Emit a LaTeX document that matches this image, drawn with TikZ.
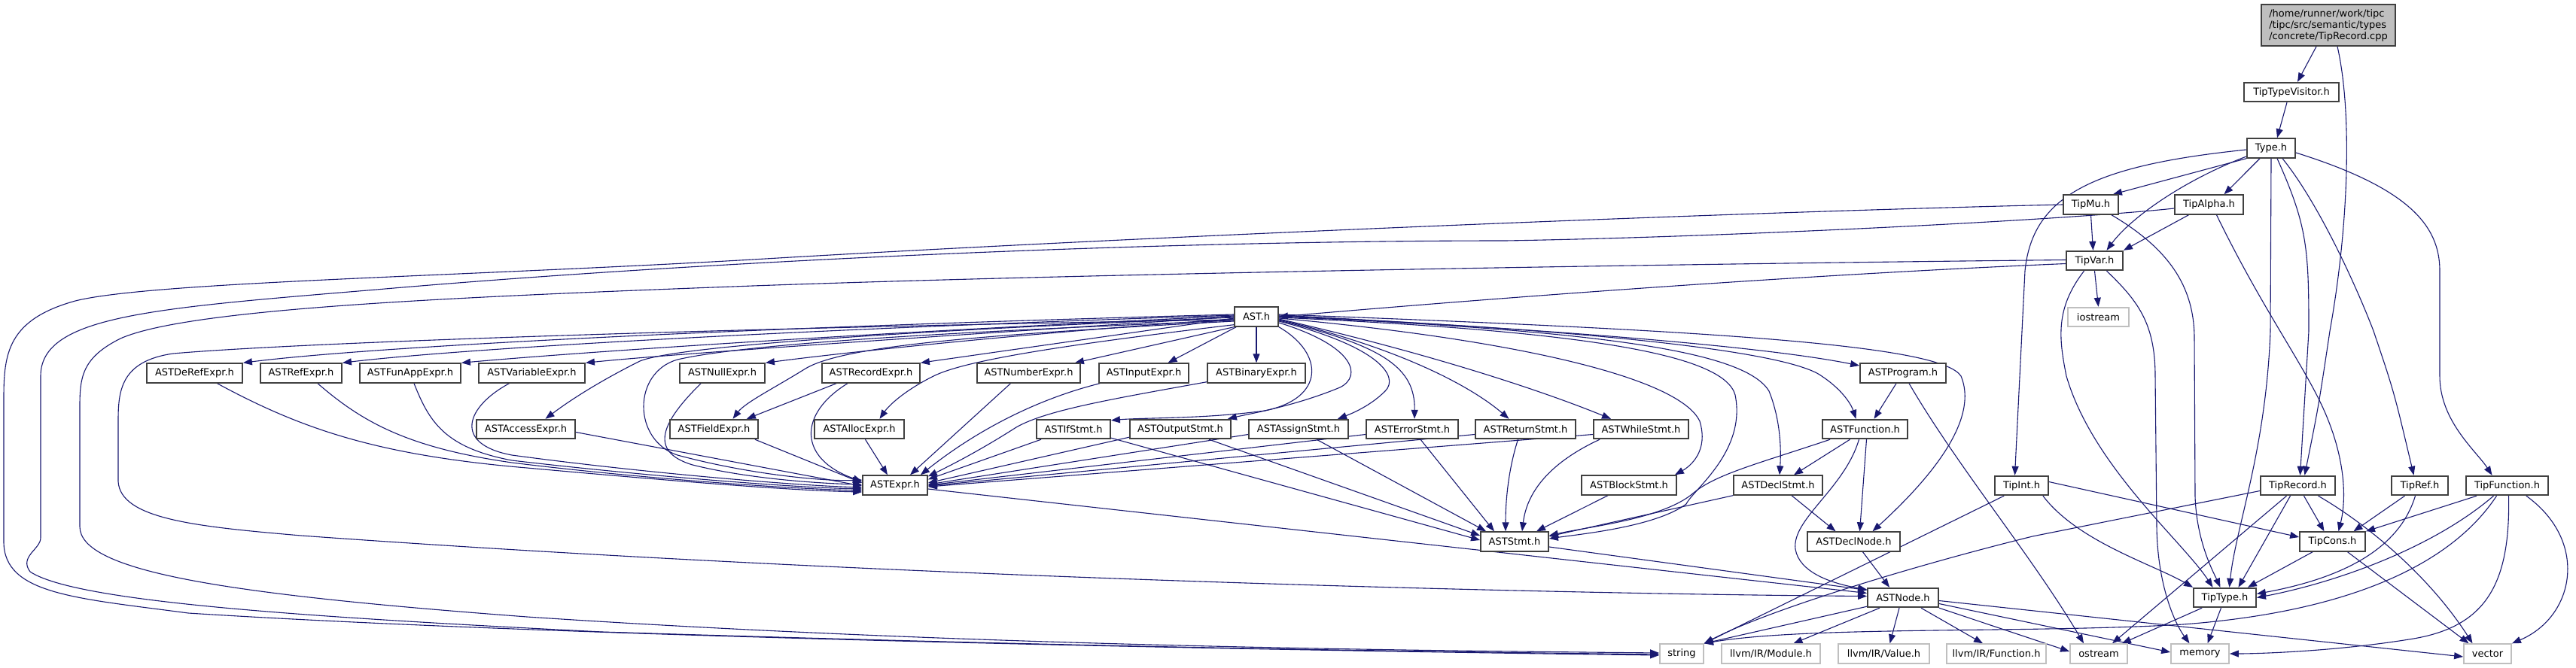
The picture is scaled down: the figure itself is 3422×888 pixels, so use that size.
\documentclass[tikz,border=0pt]{standalone}
\usepackage{fontspec}
\setmainfont{DejaVu Sans}
\usetikzlibrary{arrows.meta,calc}
\definecolor{edgecol}{RGB}{25,25,112}
\definecolor{sysgray}{RGB}{191,191,191}
\pgfdeclarelayer{bg}
\pgfsetlayers{bg,main}
\newcommand\bx[6]{\node[#1,minimum width=#5*0.5pt] (#2) at (#3,#4) {#6};}
\begin{document}
\begin{tikzpicture}[x=0.5pt,y=-0.5pt,
  box/.style={draw=black!75,line width=0.9pt,fill=white,inner sep=0pt,minimum height=12.8pt,font=\fontsize{6.5pt}{7.5pt}\selectfont},
  sys/.style={box,draw=sysgray},
  edge/.style={draw=edgecol,line width=0.55pt,-{Triangle[length=6pt,width=4.5pt]}}]
\useasboundingbox (0,0) rectangle (3422,888);
% nodes
\node[box,fill=sysgray,minimum width=89pt,minimum height=27.5pt,align=left] (root) at (3093,33.5) {/home/runner/work/tipc\\/tipc/src/semantic/types\\/concrete/TipRecord.cpp};
\bx{box}{ttv}{3044}{122.5}{126}{TipTypeVisitor.h}
\bx{box}{type}{3017}{197}{64}{Type.h}
\bx{box}{tipmu}{2777.5}{272}{73}{TipMu.h}
\bx{box}{tipalpha}{2934.5}{272}{91}{TipAlpha.h}
\bx{box}{tipvar}{2782.5}{346.5}{75}{TipVar.h}
\bx{sys}{iostream}{2787.5}{421.5}{81}{iostream}
\bx{box}{tiprecord}{3052.5}{645.5}{99}{TipRecord.h}
\bx{box}{tipref}{3214.5}{645.5}{75}{TipRef.h}
\bx{box}{tipfunction}{3330.5}{645.5}{109}{TipFunction.h}
\bx{box}{tipint}{2685.5}{645.5}{71}{TipInt.h}
\bx{box}{tipcons}{3098.5}{720}{87}{TipCons.h}
\bx{box}{tiptype}{2955.5}{794.5}{83}{TipType.h}
\bx{sys}{ostream}{2788}{869}{76}{ostream}
\bx{sys}{memory}{2922.5}{869}{77}{memory}
\bx{sys}{vector}{3304.5}{869}{63}{vector}
\bx{sys}{string}{2234}{869}{58}{string}
\bx{sys}{module}{2352.5}{869}{131}{llvm/IR/Module.h}
\bx{sys}{value}{2502.5}{869}{121}{llvm/IR/Value.h}
\bx{sys}{function}{2652}{869}{132}{llvm/IR/Function.h}
\bx{box}{astnode}{2528}{794.5}{94}{ASTNode.h}
\bx{box}{aststmt}{2012}{720}{90}{ASTStmt.h}
\bx{box}{astdeclnode}{2462.5}{720}{123}{ASTDeclNode.h}
\bx{box}{astblockstmt}{2164}{645}{126}{ASTBlockStmt.h}
\bx{box}{astdeclstmt}{2362}{645}{118}{ASTDeclStmt.h}
\bx{box}{astexpr}{1189}{645}{86}{ASTExpr.h}
\bx{box}{astprogram}{2528}{496}{114}{ASTProgram.h}
\bx{box}{astfunction}{2477.5}{570.5}{113}{ASTFunction.h}
\bx{box}{astwhilestmt}{2180}{570.5}{126}{ASTWhileStmt.h}
\bx{box}{astreturnstmt}{2026.5}{570.5}{133}{ASTReturnStmt.h}
\bx{box}{asterrorstmt}{1876}{570.5}{122}{ASTErrorStmt.h}
\bx{box}{astassignstmt}{1725}{570.5}{132}{ASTAssignStmt.h}
\bx{box}{astoutputstmt}{1568}{570.5}{134}{ASTOutputStmt.h}
\bx{box}{astifstmt}{1426}{570.5}{98}{ASTIfStmt.h}
\bx{box}{astallocexpr}{1141.5}{570.5}{119}{ASTAllocExpr.h}
\bx{box}{astfieldexpr}{948.5}{570.5}{117}{ASTFieldExpr.h}
\bx{box}{astaccessexpr}{698.5}{570.5}{131}{ASTAccessExpr.h}
\bx{box}{ast}{1669}{421}{58}{AST.h}
\bx{box}{astbinaryexpr}{1669}{496}{130}{ASTBinaryExpr.h}
\bx{box}{astinputexpr}{1519.5}{496}{119}{ASTInputExpr.h}
\bx{box}{astnumberexpr}{1366.5}{496}{137}{ASTNumberExpr.h}
\bx{box}{astrecordexpr}{1157}{496}{130}{ASTRecordExpr.h}
\bx{box}{astnullexpr}{959.5}{496}{113}{ASTNullExpr.h}
\bx{box}{astvariableexpr}{706.5}{496}{141}{ASTVariableExpr.h}
\bx{box}{astfunappexpr}{545}{496}{134}{ASTFunAppExpr.h}
\bx{box}{astrefexpr}{400}{496}{108}{ASTRefExpr.h}
\bx{box}{astderefexpr}{258.5}{496}{127}{ASTDeRefExpr.h}
\begin{pgfonlayer}{bg}
% top cluster
\draw[edge] ($(root.south)+(-16,0)$) -- ($(ttv.north)+(8,0)$);
\draw[edge] ($(root.south)+(12,0)$) .. controls (3125,150) and (3120,300) .. (3095,440) .. controls (3080,540) .. ($(tiprecord.north)+(9,0)$);
\draw[edge] ($(ttv.south)+(-6,0)$) -- ($(type.north)+(8,0)$);
\draw[edge] (type.south west) -- ($(tipmu.north east)+(-8,0)$);
\draw[edge] ($(type.west)+(0,11)$) .. controls (2900,240) and (2830,290) .. ($(tipvar.north)+(16,0)$);
\draw[edge] ($(type.south)+(-15,0)$) -- ($(tipalpha.north)+(20,0)$);
\draw[edge] (type.south) -- (3016,440) .. controls (3010,600) and (2970,700) .. ($(tiptype.north)+(6,0)$);
\draw[edge] ($(type.south)+(8,0)$) .. controls (3065,300) and (3067,330) .. (3067,440) -- ($(tiprecord.north)+(3,0)$);
\draw[edge] ($(type.south)+(15,0)$) .. controls (3080,270) and (3130,380) .. (3153,440) .. controls (3180,520) .. ($(tipref.north)+(-8,0)$);
\draw[edge] ($(type.east)+(0,6)$) .. controls (3200,250) and (3241,300) .. (3241,360) -- (3241,500) .. controls (3241,560) and (3290,600) .. ($(tipfunction.north)+(-20,0)$);
\draw[edge] ($(type.west)+(0,2)$) .. controls (2780,220) and (2700,260) .. (2690,360) -- ($(tipint.north)+(-9,0)$);
\draw[edge] (tipmu.south) -- ($(tipvar.north)+(-2,0)$);
\draw[edge] ($(tipalpha.south)+(-27,0)$) -- (tipvar.north east);
\draw[edge] (tipvar.south) -- (iostream.north);
\draw[edge] ($(tipmu.south east)+(-10,0)$) .. controls (2880,330) and (2915,380) .. (2915,450) -- (2916,660) .. controls (2918,720) and (2940,760) .. ($(tiptype.north)+(-6,0)$);
\draw[edge] ($(tipalpha.south)+(10,0)$) .. controls (3000,400) and (3050,470) .. (3080,530) .. controls (3115,600) and (3118,660) .. ($(tipcons.north)+(8,0)$);
\draw[edge] ($(tipvar.south)+(-14,0)$) .. controls (2730,410) and (2735,450) .. (2745,500) .. controls (2780,620) and (2900,720) .. ($(tiptype.north)+(-16,0)$);
\draw[edge] ($(tipvar.south)+(16,0)$) .. controls (2840,400) and (2863,430) .. (2863,500) -- (2865,700) .. controls (2866,780) and (2890,830) .. ($(memory.north)+(-14,0)$);
\draw[edge] ($(tipvar.west)+(0,4)$) .. controls (2400,365) and (2000,395) .. (ast.east);
% long left curves into string
\draw[edge] (tipmu.west) .. controls (2300,282) and (1500,315) .. (1000,345) .. controls (600,368) and (200,375) .. (100,400) .. controls (10,425) and (5,470) .. (5,530) -- (5,720) .. controls (5,790) and (100,795) .. (250,815) .. controls (800,850) and (1800,866) .. ($(string.west)+(0,2)$);
\draw[edge] ($(tipalpha.west)+(0,5)$) .. controls (2750,292) and (2300,315) .. (2000,320) .. controls (1500,320) and (900,350) .. (500,385) .. controls (200,410) and (54,420) .. (54,500) -- (54,715) .. controls (54,730) and (25,740) .. (40,760) .. controls (100,800) and (400,820) .. (800,840) .. controls (1500,862) and (1900,866) .. ($(string.west)+(0,1)$);
\draw[edge] ($(tipvar.west)+(0,-1)$) .. controls (2300,350) and (1500,362) .. (1000,380) .. controls (600,395) and (250,410) .. (160,450) .. controls (110,475) and (106,500) .. (106,540) -- (106,700) .. controls (106,760) and (300,790) .. (700,820) .. controls (1300,860) and (1900,865) .. ($(string.west)+(0,-1)$);
% TipRecord etc
\draw[edge] ($(tiprecord.west)+(0,7)$) -- (2700,713) .. controls (2550,750) and (2350,810) .. (string.north east);
\draw[edge] ($(tiprecord.south)+(8,0)$) -- ($(tipcons.north)+(-11,0)$);
\draw[edge] ($(tiprecord.south)+(-10,0)$) -- ($(tiptype.north)+(18,0)$);
\draw[edge] ($(tiprecord.south)+(-15,0)$) -- ($(ostream.north)+(18,0)$);
\draw[edge] ($(tiprecord.south)+(27,0)$) .. controls (3150,700) and (3230,770) .. ($(vector.north)+(-20,0)$);
\draw[edge] ($(tipref.south)+(-20,0)$) -- ($(tipcons.north)+(28,0)$);
\draw[edge] ($(tipref.south)+(-6,0)$) .. controls (3190,720) and (3130,765) .. ($(tiptype.east)+(0,-5)$);
\draw[edge] ($(tipfunction.south west)+(15,0)$) -- (tipcons.north east);
\draw[edge] ($(tipfunction.south)+(-18,0)$) .. controls (3230,730) and (3100,775) .. ($(tiptype.east)+(0,0)$);
\draw[edge] ($(tipfunction.south)+(-14,0)$) .. controls (3250,760) and (3100,815) .. (2900,830) .. controls (2700,842) and (2400,832) .. (string.north east);
\draw[edge] ($(tipfunction.south)+(2,0)$) .. controls (3335,780) and (3300,835) .. (3200,850) .. controls (3100,866) and (3000,869) .. (memory.east);
\draw[edge] ($(tipfunction.south east)+(-30,0)$) .. controls (3440,720) and (3420,820) .. (vector.north east);
\draw[edge] ($(tipcons.south west)+(18,0)$) -- ($(tiptype.north east)+(-12,0)$);
\draw[edge] ($(tipcons.south)+(20,0)$) -- ($(vector.north)+(-25,0)$);
\draw[edge] ($(tiptype.south west)+(12,0)$) -- ($(ostream.north east)+(-8,0)$);
\draw[edge] ($(tiptype.south)+(-5,0)$) -- ($(memory.north)+(10,0)$);
\draw[edge] ($(tipint.east)+(0,-5)$) -- ($(tipcons.west)+(0,-6)$);
\draw[edge] ($(tipint.south east)+(-8,0)$) .. controls (2760,720) and (2860,750) .. (tiptype.north west);
\draw[edge] ($(tipint.south west)+(13,0)$) -- (string.north east);
% ASTNode
\draw[edge] ($(astnode.south west)+(0,-2)$) -- (string.north east);
\draw[edge] ($(astnode.south)+(-31,0)$) -- ($(module.north)+(30,0)$);
\draw[edge] ($(astnode.south)+(-5,0)$) -- ($(value.north)+(8,0)$);
\draw[edge] ($(astnode.south)+(24,0)$) -- ($(function.north)+(-18,0)$);
\draw[edge] ($(astnode.east)+(0,4)$) -- ($(vector.west)+(0,4)$);
\draw[edge] ($(astnode.east)+(0,8)$) -- ($(memory.west)+(0,-2)$);
\draw[edge] (astnode.south east) -- ($(ostream.west)+(0,-3)$);
\draw[edge] ($(astdeclnode.south)+(12,0)$) -- ($(astnode.north)+(-18,0)$);
\draw[edge] ($(aststmt.east)+(0,7)$) -- ($(astnode.west)+(0,-10)$);
\draw[edge] ($(astexpr.east)+(0,5)$) -- ($(astnode.west)+(0,-6)$);
\draw[edge] ($(ast.west)+(0,4)$) .. controls (1000,435) and (400,455) .. (230,470) .. controls (160,480) and (157,520) .. (157,560) -- (157,640) .. controls (160,690) and (260,700) .. (400,712) .. controls (1200,770) and (2100,790) .. ($(astnode.west)+(0,-2)$);
% ASTFunction / ASTProgram / decls
\draw[edge] ($(astfunction.south)+(-8,0)$) .. controls (2450,650) and (2380,690) .. (2385,730) .. controls (2390,760) and (2430,775) .. ($(astnode.north west)+(0,3)$);
\draw[edge] ($(astfunction.south)+(2,0)$) -- ($(astdeclnode.north)+(8,0)$);
\draw[edge] ($(astfunction.south)+(-20,0)$) -- ($(astdeclstmt.north)+(21,0)$);
\draw[edge] ($(astfunction.south west)+(11,0)$) .. controls (2340,615) and (2280,630) .. (2250,655) .. controls (2210,690) and (2110,700) .. ($(aststmt.east)+(0,-8)$);
\draw[edge] ($(astprogram.south)+(-9,0)$) -- ($(astfunction.north)+(12,0)$);
\draw[edge] ($(astprogram.south)+(8,0)$) .. controls (2600,620) and (2700,740) .. ($(ostream.north)+(-20,0)$);
\draw[edge] (astdeclstmt.south west) -- ($(aststmt.east)+(0,-7)$);
\draw[edge] ($(astdeclstmt.south)+(18,0)$) -- ($(astdeclnode.north)+(-24,0)$);
\draw[edge] ($(astblockstmt.south)+(-28,0)$) -- ($(aststmt.north)+(29,0)$);
% statements
\draw[edge] ($(astwhilestmt.south west)+(9,0)$) .. controls (2080,605) and (2030,640) .. ($(aststmt.north)+(10,0)$);
\draw[edge] ($(astwhilestmt.west)+(0,7)$) -- ($(astexpr.east)+(0,2)$);
\draw[edge] ($(astreturnstmt.south)+(-10,0)$) .. controls (2005,620) and (2000,660) .. ($(aststmt.north)+(-12,0)$);
\draw[edge] ($(astreturnstmt.west)+(0,7)$) -- ($(astexpr.east)+(0,1)$);
\draw[edge] ($(asterrorstmt.south)+(11,0)$) -- ($(aststmt.north)+(-27,0)$);
\draw[edge] ($(asterrorstmt.west)+(0,7)$) -- ($(astexpr.east)+(0,0)$);
\draw[edge] ($(astassignstmt.south)+(24,0)$) -- ($(aststmt.north west)+(8,0)$);
\draw[edge] ($(astassignstmt.west)+(0,7)$) -- ($(astexpr.east)+(0,-1)$);
\draw[edge] ($(astoutputstmt.south)+(38,0)$) -- ($(aststmt.west)+(0,-8)$);
\draw[edge] ($(astoutputstmt.south west)+(0,-3)$) -- ($(astexpr.east)+(0,-3)$);
\draw[edge] ($(astifstmt.south east)+(0,-2)$) -- ($(aststmt.west)+(0,-2)$);
\draw[edge] ($(astifstmt.south)+(-43,0)$) -- ($(astexpr.north east)+(0,6)$);
% expressions
\draw[edge] ($(astbinaryexpr.south west)+(0,-2)$) .. controls (1480,530) and (1390,545) .. (1350,568) .. controls (1300,600) and (1260,620) .. ($(astexpr.north east)+(0,2)$);
\draw[edge] ($(astinputexpr.south west)+(2,0)$) .. controls (1380,530) and (1300,570) .. ($(astexpr.north east)+(-10,0)$);
\draw[edge] ($(astnumberexpr.south)+(-24,0)$) -- ($(astexpr.north)+(20,0)$);
\draw[edge] ($(astallocexpr.south)+(8,0)$) -- ($(astexpr.north)+(-10,0)$);
\draw[edge] ($(astrecordexpr.south)+(-31,0)$) .. controls (1060,550) and (1060,610) .. ($(astexpr.west)+(0,-5)$);
\draw[edge] ($(astrecordexpr.south west)+(20,0)$) -- ($(astfieldexpr.north east)+(-16,0)$);
\draw[edge] ($(astfieldexpr.south east)+(-5,0)$) -- ($(astexpr.west)+(0,-3)$);
\draw[edge] ($(astnullexpr.south west)+(29,0)$) .. controls (880,560) and (860,600) .. (920,618) .. controls (1000,638) and (1100,643) .. ($(astexpr.west)+(0,-1)$);
\draw[edge] ($(astaccessexpr.east)+(0,4)$) -- ($(astexpr.west)+(0,1)$);
\draw[edge] ($(astvariableexpr.south)+(-30,0)$) .. controls (620,540) and (600,590) .. (680,605) .. controls (850,628) and (1050,645) .. ($(astexpr.west)+(0,3)$);
\draw[edge] ($(astfunappexpr.south)+(5,0)$) .. controls (570,560) and (590,595) .. (680,612) .. controls (850,632) and (1050,648) .. ($(astexpr.west)+(0,5)$);
\draw[edge] ($(astrefexpr.south)+(22,0)$) .. controls (480,560) and (540,595) .. (680,615) .. controls (850,636) and (1050,650) .. ($(astexpr.west)+(0,7)$);
\draw[edge] ($(astderefexpr.south)+(30,0)$) .. controls (400,570) and (500,605) .. (700,622) .. controls (900,640) and (1050,652) .. ($(astexpr.west)+(0,9)$);
\draw[edge] ($(ast.west)+(0,5)$) .. controls (1300,440) and (1000,455) .. (900,478) .. controls (840,495) and (840,585) .. (900,605) .. controls (1000,632) and (1100,640) .. ($(astexpr.west)+(0,-7)$);
% AST.h fan-out
\draw[edge] ($(ast.west)+(0,-3)$) .. controls (1000,435) and (500,460) .. (astderefexpr.north east);
\draw[edge] ($(ast.west)+(0,-2)$) .. controls (1000,440) and (600,465) .. (astrefexpr.north east);
\draw[edge] ($(ast.west)+(0,-1)$) .. controls (1100,445) and (750,470) .. (astfunappexpr.north east);
\draw[edge] (ast.west) .. controls (1200,450) and (900,470) .. (astvariableexpr.north east);
\draw[edge] ($(ast.west)+(0,1)$) .. controls (1200,440) and (900,460) .. (850,480) .. controls (800,505) and (760,530) .. ($(astaccessexpr.north)+(26,0)$);
\draw[edge] ($(ast.west)+(0,6)$) .. controls (1300,445) and (1120,460) .. (1070,490) .. controls (1030,515) and (990,535) .. ($(astfieldexpr.north)+(25,0)$);
\draw[edge] ($(ast.west)+(0,3)$) .. controls (1400,440) and (1150,465) .. (astnullexpr.north east);
\draw[edge] ($(ast.west)+(0,2)$) -- (astrecordexpr.north east);
\draw[edge] ($(ast.south west)+(0,-3)$) .. controls (1400,460) and (1280,480) .. (1240,500) .. controls (1200,520) and (1180,540) .. ($(astallocexpr.north)+(27,0)$);
\draw[edge] (ast.south west) -- ($(astnumberexpr.north east)+(-8,0)$);
\draw[edge] ($(ast.south west)+(3,0)$) -- ($(astinputexpr.north)+(32,0)$);
\draw[edge] (ast.south) -- (astbinaryexpr.north);
\draw[edge] (ast.south east) .. controls (1760,470) and (1760,530) .. (1680,546) .. controls (1600,557) and (1520,555) .. ($(astifstmt.north east)+(0,2)$);
\draw[edge] ($(ast.east)+(0,8)$) .. controls (1800,460) and (1810,500) .. (1780,515) .. controls (1720,540) and (1660,550) .. ($(astoutputstmt.north east)+(-5,0)$);
\draw[edge] ($(ast.east)+(0,6)$) .. controls (1830,460) and (1860,500) .. (1840,520) .. controls (1820,540) and (1795,550) .. ($(astassignstmt.north)+(52,0)$);
\draw[edge] ($(ast.east)+(0,5)$) .. controls (1840,460) and (1880,490) .. ($(asterrorstmt.north)+(3,0)$);
\draw[edge] ($(ast.east)+(0,4)$) .. controls (1850,460) and (1950,510) .. ($(astreturnstmt.north)+(-22,0)$);
\draw[edge] ($(ast.east)+(0,3)$) .. controls (1900,470) and (2050,520) .. ($(astwhilestmt.north)+(-40,0)$);
\draw[edge] ($(ast.east)+(0,2)$) .. controls (2000,450) and (2230,500) .. (2258,560) .. controls (2270,600) and (2245,620) .. ($(astblockstmt.north east)+(-3,0)$);
\draw[edge] ($(ast.east)+(0,1)$) .. controls (2100,440) and (2290,470) .. (2305,525) .. controls (2320,600) and (2250,650) .. (2240,670) .. controls (2200,700) and (2100,710) .. ($(aststmt.east)+(0,-4)$);
\draw[edge] (ast.east) .. controls (2150,440) and (2320,470) .. (2350,520) .. controls (2366,560) and (2366,600) .. ($(astdeclstmt.north)+(2,0)$);
\draw[edge] ($(ast.east)+(0,-1)$) .. controls (2150,440) and (2380,470) .. (2420,500) .. controls (2450,520) and (2460,540) .. ($(astfunction.north)+(-12,0)$);
\draw[edge] ($(ast.east)+(0,-2)$) .. controls (2100,440) and (2350,462) .. ($(astprogram.west)+(0,-10)$);
\draw[edge] ($(ast.east)+(0,-3)$) .. controls (2300,440) and (2580,460) .. (2605,500) .. controls (2630,560) and (2560,640) .. ($(astdeclnode.north)+(25,0)$);
\end{pgfonlayer}
\end{tikzpicture}
\end{document}
